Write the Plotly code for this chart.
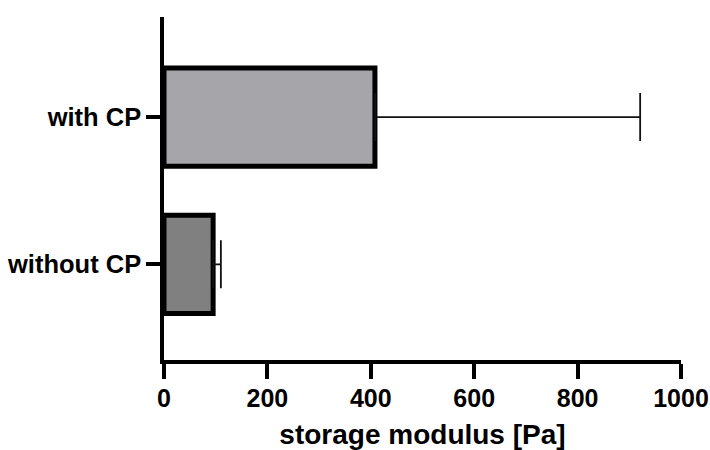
import plotly.graph_objects as go

categories = ["without CP", "with CP"]
values = [95, 408]
errors_plus = [15, 513]
errors_minus = [0, 0]
bar_colors = ["#808080", "#a6a5a9"]
x_ticks = [0, 200, 400, 600, 800, 1000]

FONT = "Liberation Sans, Arial, sans-serif"

fig = go.Figure()
fig.add_trace(go.Bar(
    y=categories,
    x=values,
    orientation="h",
    width=0.667,
    marker=dict(color=bar_colors, line=dict(color="black", width=5)),
    error_x=dict(type="data", symmetric=False, array=errors_plus,
                 arrayminus=errors_minus, color="#111111",
                 thickness=1.8, width=24),
))

fig.update_layout(
    template="none",
    width=710, height=450,
    margin=dict(l=164, r=29, t=17, b=90, pad=0),
    plot_bgcolor="white", paper_bgcolor="white",
    showlegend=False,
    font=dict(family=FONT, color="black", size=24, weight="bold"),
    xaxis=dict(
        automargin=False,
        range=[0, 1000], tickvals=x_ticks, ticktext=[str(t) for t in x_ticks],
        showgrid=False, zeroline=False,
        showline=True, linecolor="black", linewidth=3.5,
        ticks="outside", ticklen=15, tickwidth=3.5, tickcolor="black",
        tickfont=dict(family=FONT, size=25, weight="bold"),
        ticklabelstandoff=-2,
        title=dict(text="storage modulus [Pa]", standoff=16,
                   font=dict(family=FONT, size=28, weight="bold")),
    ),
    yaxis=dict(
        automargin=False,
        range=[-0.65, 1.68],
        showgrid=False, zeroline=False,
        showline=True, linecolor="black", linewidth=3.5,
        ticks="outside", ticklen=14, tickwidth=3.5, tickcolor="black",
        tickfont=dict(family=FONT, size=25.5, weight="bold"),
        ticklabelstandoff=0,
    ),
)

fig.write_html(
    "out.html",
    config={"displayModeBar": False},
    post_script="document.body.style.margin='0';document.body.style.padding='0';",
)
